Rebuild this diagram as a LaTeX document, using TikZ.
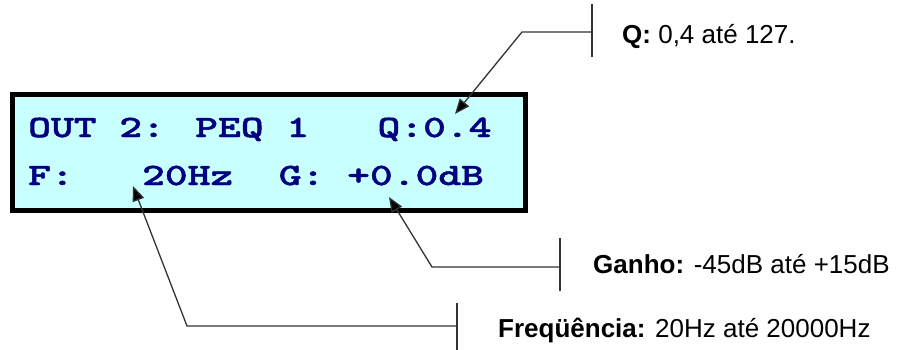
\documentclass[tikz,border=0pt]{standalone}
\usepackage{fontspec}
\setmainfont{Liberation Sans}
\newfontfamily\lcdfont{lmmonolt10-bold.otf}[FakeBold=1.5,FakeStretch=1.4]
\usetikzlibrary{arrows.meta}
\definecolor{lcdbg}{HTML}{C8FFFF}
\definecolor{lcdtext}{HTML}{000080}
\definecolor{leader}{HTML}{333333}
\begin{document}
\begin{tikzpicture}[x=1pt,y=-1pt,
  lcdline/.style={anchor=base west,inner sep=0pt,text=lcdtext,font=\lcdfont\fontsize{31}{31}\selectfont},
  lbl/.style={anchor=base west,inner sep=0pt,font=\fontsize{26}{26}\selectfont},
  leaderline/.style={draw=leader,line width=1.3pt,-{Triangle[length=15pt,width=12pt,fill=black]}},
  tick/.style={draw=leader,line width=1.3pt}]
\useasboundingbox (0,0) rectangle (908,349);
% LCD box
\node[draw,fill=lcdbg,line width=5pt,minimum width=513pt,minimum height=116pt,inner sep=0pt] (lcd) at (269,152.5) {};
\node[lcdline] (l1) at (28,137) {OUT 2: PEQ 1\ \ \ Q:0.4};
\node[lcdline] (l2) at (28,185) {F:\ \ \ 20Hz\ \ G: +0.0dB};
% labels
\node[lbl] (lq) at (622,43) {\textbf{Q:} 0,4 até 127.};
\node[lbl] (lg) at (593,273) {\textbf{Ganho:} -45dB até +15dB};
\node[lbl] (lf) at (498,337) {\textbf{Freqüência:} 20Hz até 20000Hz};
% leader coordinates
\coordinate (qtick) at (592,32);
\coordinate (qbend) at (522,32);
\coordinate (qtip) at (455,114);
\coordinate (gtick) at (560,267);
\coordinate (gbend) at (432,267);
\coordinate (gtip) at (389,197);
\coordinate (ftick) at (457,326);
\coordinate (fbend) at (187,326);
\coordinate (ftip) at (133,186);
% leaders
\draw[leaderline] (qtick) -- (qbend) -- (qtip);
\draw[tick] ([yshift=-25pt]qtick) -- ([yshift=28pt]qtick);
\draw[leaderline] (gtick) -- (gbend) -- (gtip);
\draw[tick] ([yshift=-24pt]gtick) -- ([yshift=29pt]gtick);
\draw[leaderline] (ftick) -- (fbend) -- (ftip);
\draw[tick] ([yshift=-26pt]ftick) -- ([yshift=23pt]ftick);
\end{tikzpicture}
\end{document}
